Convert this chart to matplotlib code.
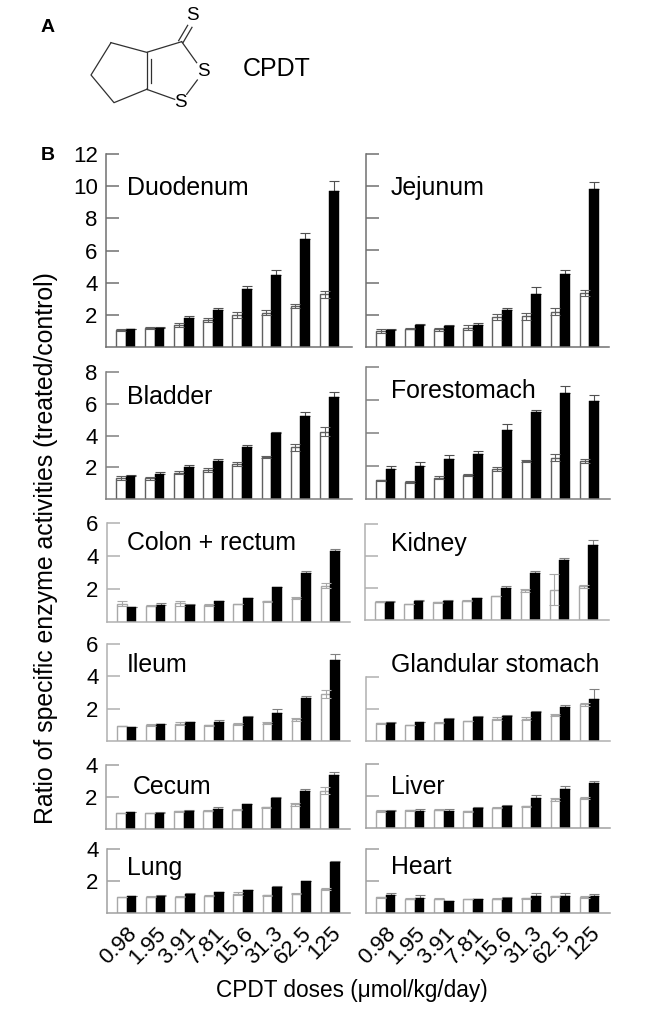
import matplotlib
matplotlib.use("Agg")
import matplotlib.pyplot as plt
from matplotlib.lines import Line2D

plt.rcParams['font.family'] = ['Liberation Sans', 'DejaVu Sans']

W, H = 654, 1023
doses = ['0.98', '1.95', '3.91', '7.81', '15.6', '31.3', '62.5', '125']

duodenum_w = [1.1, 1.2, 1.4, 1.7, 2.0, 2.15, 2.6, 3.3]
duodenum_b = [1.15, 1.2, 1.85, 2.3, 3.6, 4.5, 6.7, 9.7]
duodenum_we = [.05, .08, .12, .12, .2, .15, .12, .2]
duodenum_be = [.02, .05, .1, .17, .22, .28, .42, .65]

jejunum_w = [1.0, 1.13, 1.1, 1.2, 1.85, 1.9, 2.2, 3.35]
jejunum_b = [1.07, 1.35, 1.28, 1.38, 2.28, 3.3, 4.55, 9.8]
jejunum_we = [.12, .03, .1, .15, .2, .2, .2, .2]
jejunum_be = [.06, .08, .06, .12, .15, .45, .25, .45]

bladder_w = [1.3, 1.3, 1.65, 1.85, 2.2, 2.65, 3.25, 4.25]
bladder_b = [1.45, 1.6, 2.0, 2.4, 3.3, 4.15, 5.2, 6.4]
bladder_we = [.12, .08, .1, .12, .12, .06, .2, .3]
bladder_be = [.05, .08, .15, .15, .1, .1, .25, .35]

forestomach_w = [1.15, 1.05, 1.3, 1.45, 1.8, 2.3, 2.5, 2.3]
forestomach_b = [1.83, 2.03, 2.4, 2.75, 4.2, 5.3, 6.4, 5.95]
forestomach_we = [.03, .05, .1, .05, .12, .04, .2, .1]
forestomach_be = [.15, .2, .25, .17, .35, .1, .45, .35]

colon_w = [1.1, 1.0, 1.15, 1.05, 1.1, 1.25, 1.45, 2.2]
colon_b = [.9, 1.05, 1.05, 1.25, 1.45, 2.1, 2.95, 4.3]
colon_we = [.15, .02, .15, .05, .02, .05, .08, .15]
colon_be = [.02, .08, .05, .05, .02, .03, .12, .12]

kidney_w = [1.15, 1.0, 1.1, 1.2, 1.5, 1.85, 1.9, 2.1]
kidney_b = [1.1, 1.2, 1.2, 1.35, 2.0, 2.95, 3.75, 4.7]
kidney_we = [.05, .03, .03, .02, .02, .08, .95, .1]
kidney_be = [.07, .08, .06, .03, .1, .12, .1, .3]

ileum_w = [.92, 1.0, 1.08, .97, 1.05, 1.12, 1.35, 2.9]
ileum_b = [.87, 1.05, 1.15, 1.18, 1.5, 1.75, 2.65, 5.0]
ileum_we = [.01, .05, .07, .03, .05, .08, .1, .25]
ileum_be = [.02, .02, .02, .1, .06, .2, .15, .4]

glandular_w = [1.1, 1.0, 1.15, 1.25, 1.4, 1.4, 1.65, 2.3]
glandular_b = [1.15, 1.18, 1.4, 1.5, 1.55, 1.8, 2.1, 2.6]
glandular_we = [.05, .03, .02, .02, .1, .08, .06, .1]
glandular_be = [.02, .03, .06, .06, .08, .1, .15, .65]

cecum_w = [1.02, .98, 1.1, 1.15, 1.2, 1.35, 1.55, 2.4]
cecum_b = [1.05, 1.02, 1.15, 1.25, 1.55, 1.95, 2.4, 3.35]
cecum_we = [.01, .01, .03, .04, .02, .05, .1, .2]
cecum_be = [.02, .02, .04, .1, .03, .03, .1, .2]

liver_w = [1.05, 1.1, 1.15, 1.05, 1.27, 1.35, 1.8, 1.85]
liver_b = [1.05, 1.05, 1.05, 1.25, 1.4, 1.85, 2.45, 2.8]
liver_we = [.07, .05, .05, .03, .03, .05, .1, .06]
liver_be = [.05, .13, .13, .08, .06, .2, .15, .15]

lung_w = [1.0, 1.02, 1.02, 1.08, 1.2, 1.1, 1.2, 1.5]
lung_b = [1.05, 1.08, 1.18, 1.3, 1.42, 1.65, 2.0, 3.2]
lung_we = [.02, .02, .03, .03, .1, .02, .03, .06]
lung_be = [.03, .05, .04, .02, .03, .03, .03, .05]

heart_w = [.98, .9, .9, .88, .9, .92, 1.05, 1.0]
heart_b = [1.1, .95, .75, .85, .95, 1.08, 1.08, 1.07]
heart_we = [.03, .05, .03, .02, .02, .03, .02, .05]
heart_be = [.12, .15, .03, .03, .08, .18, .15, .1]

panels = [
    # name, white, black, white err, black err, ymax, ticks labelled, left/right px, top/base px, label x, label y, axis colour
    ('Duodenum', duodenum_w, duodenum_b, duodenum_we, duodenum_be, 12, True, 106, 352, 154, 347.5, 127, 186, '#707070'),
    ('Jejunum', jejunum_w, jejunum_b, jejunum_we, jejunum_be, 12, False, 366, 609, 154, 347, 391, 186, '#707070'),
    ('Bladder', bladder_w, bladder_b, bladder_we, bladder_be, 8, True, 106, 352, 372, 499, 127, 396, '#808080'),
    ('Forestomach', forestomach_w, forestomach_b, forestomach_we, forestomach_be, 8, False, 366, 610, 367, 499, 391, 390, '#808080'),
    ('Colon + rectum', colon_w, colon_b, colon_we, colon_be, 6, True, 107, 350, 523, 622, 127, 542, '#b0b0b0'),
    ('Kidney', kidney_w, kidney_b, kidney_we, kidney_be, 6, False, 365, 609, 524, 620, 391, 542, '#b0b0b0'),
    ('Ileum', ileum_w, ileum_b, ileum_we, ileum_be, 6, True, 107, 350, 644, 741, 127, 664, '#b0b0b0'),
    ('Glandular stomach', glandular_w, glandular_b, glandular_we, glandular_be, 4, False, 366, 610, 677, 741, 391, 664, '#b0b0b0'),
    ('Cecum', cecum_w, cecum_b, cecum_we, cecum_be, 4, True, 106, 350, 765, 829, 133, 785, '#a0a0a0'),
    ('Liver', liver_w, liver_b, liver_we, liver_be, 4, False, 366, 610, 764, 828, 391, 786, '#a0a0a0'),
    ('Lung', lung_w, lung_b, lung_we, lung_be, 4, True, 107, 350, 849, 913, 127, 866, '#a0a0a0'),
    ('Heart', heart_w, heart_b, heart_we, heart_be, 4, False, 366, 610, 849, 913, 391, 866, '#a0a0a0'),
]

fig = plt.figure(figsize=(W / 100, H / 100), dpi=100, facecolor='white')


def fx(p):
    return p / W


def fy(p):
    return 1 - p / H


GROUP_PX = 29.1
for idx, (name, w, b, we, be, ymax, lab, xl, xr, yt, yb, lx, ly, col) in enumerate(panels):
    ax = fig.add_axes([fx(xl), fy(yb), (xr - xl) / W, (yb - yt) / H])
    x0 = (10 + 9.7) / GROUP_PX  # first group sits ~20 px right of axis
    ax.set_xlim(-x0, (xr - xl) / GROUP_PX - x0)
    ax.set_ylim(0, ymax)
    pos = list(range(len(doses)))
    bw = 0.33
    xw = [p - bw / 2 for p in pos]
    xb = [p + bw / 2 for p in pos]
    ecol = '#606060' if idx < 4 else '#a8a8a8'
    ax.bar(xw, w, bw, facecolor='white', edgecolor=ecol, linewidth=1.0, zorder=2)
    ax.errorbar(xw, w, yerr=we, fmt='none', ecolor=ecol, elinewidth=0.8, capsize=3.4, capthick=0.8, zorder=3)
    ax.errorbar(xb, b, yerr=[[0] * len(be), be], fmt='none', ecolor='#505050' if idx < 4 else '#808080',
                elinewidth=0.8, capsize=3.4, capthick=0.8, zorder=1)
    ax.bar(xb, b, bw, facecolor='black', edgecolor='black', linewidth=0.3, zorder=2)
    for s in ('top', 'right'):
        ax.spines[s].set_visible(False)
    for s in ('left', 'bottom'):
        ax.spines[s].set_color(col)
        ax.spines[s].set_linewidth(1.1)
    ax.set_yticks(list(range(2, ymax + 1, 2)))
    ax.tick_params(axis='y', direction='in', length=9.5, width=1.1, color=col, pad=6, labelsize=16,
                   labelleft=lab)
    ax.set_xticks(pos)
    if idx >= 10:
        ax.set_xticklabels(doses, rotation=45, ha='right', rotation_mode='anchor', fontsize=16)
        ax.tick_params(axis='x', length=0, pad=7)
    else:
        ax.tick_params(axis='x', length=0, labelbottom=False)
    ax.patch.set_alpha(0)
    fig.text(fx(lx), fy(ly + 1.5), name, fontsize=17.9, ha='left', va='center')

fig.text(fx(46), fy(548), 'Ratio of specific enzyme activities (treated/control)', rotation=90,
         fontsize=17.9, ha='center', va='center')
fig.text(fx(352), fy(990), 'CPDT doses (\u03bcmol/kg/day)', fontsize=16.3, ha='center', va='center')
fig.text(fx(48), fy(28), 'A', fontsize=14, fontweight='bold', ha='center', va='center')
fig.text(fx(48), fy(155), 'B', fontsize=14, fontweight='bold', ha='center', va='center')
fig.text(fx(277), fy(69), 'CPDT', fontsize=18, ha='center', va='center')

# Chemical structure (diagram, in pixel coordinates of the zoomed reference)
bonds = [
    [(333, 128), (440, 157), (545, 125)],
    [(333, 128), (273, 225), (342, 308), (440, 268)],
    [(440, 157), (440, 268)],
    [(452, 176), (452, 250)],
    [(545, 125), (590, 188)],
    [(592, 240), (560, 283)],
    [(440, 268), (524, 298)],
    [(536, 122), (563, 76)],
    [(549, 128), (576, 82)],
]
for seg in bonds:
    fig.add_artist(Line2D([fx(p[0] / 3) for p in seg], [fy(p[1] / 3) for p in seg],
                          color='#303030', linewidth=0.9, transform=fig.transFigure))
for (px, py) in [(578, 45), (610, 215), (541, 308)]:
    fig.text(fx(px / 3), fy(py / 3), 'S', fontsize=13.5, ha='center', va='center')

fig.savefig('out.png', dpi=100)
